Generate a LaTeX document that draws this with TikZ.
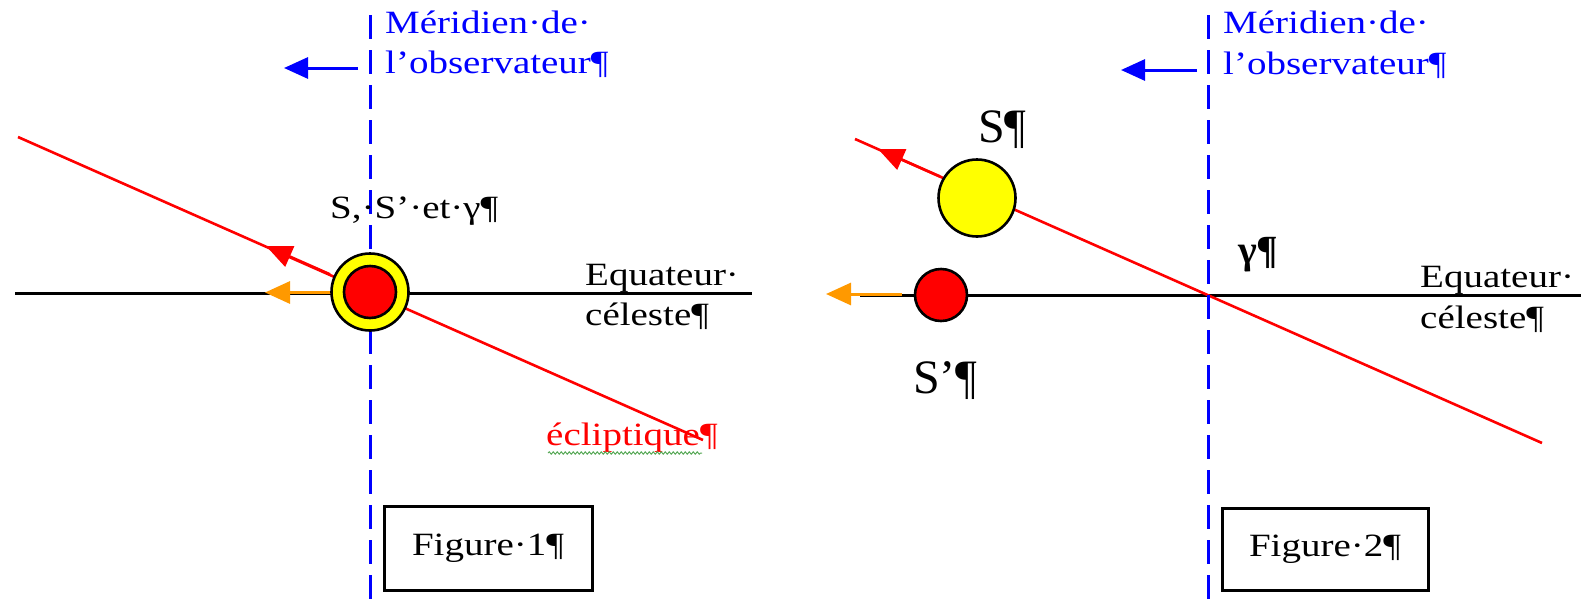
\documentclass[tikz,border=0pt]{standalone}
\usepackage{fontspec}
\setmainfont{Liberation Serif}
\newfontfamily\wfont[FakeStretch=1.2]{Liberation Serif}
\usetikzlibrary{arrows.meta,decorations.pathmorphing}
\definecolor{wblue}{RGB}{0,0,255}
\definecolor{worange}{RGB}{255,153,0}
\definecolor{wyellow}{RGB}{255,255,0}
\definecolor{wred}{RGB}{255,0,0}
\definecolor{wgreen}{RGB}{90,170,90}
\begin{document}
\begin{tikzpicture}[x=1pt,y=-1pt,
  meridian/.style={wblue, line width=3pt, dash pattern=on 24pt off 11pt},
  bluearrow/.style={wblue, line width=3pt, -{Triangle[length=24pt,width=21pt]}},
  ecl/.style={wred, line width=2.6pt},
  eclarrow/.style={wred, line width=2.6pt, -{Triangle[length=26pt,width=22pt]}},
  orarrow/.style={worange, line width=3pt, -{Triangle[length=25pt,width=22pt]}},
  equator/.style={black, line width=3pt},
  txt/.style={inner sep=0pt, anchor=base west, font={\wfont\fontsize{32.5}{38}\selectfont}},
  bigtxt/.style={inner sep=0pt, anchor=base west, font={\fontsize{48}{56}\selectfont}},
  figbox/.style={draw, line width=3pt, inner sep=0pt, font={\wfont\fontsize{32.5}{38}\selectfont}},
  sun/.style={circle, draw, line width=2.6pt, fill=wyellow, minimum size=77pt, inner sep=0pt},
  star/.style={circle, draw, line width=2.6pt, fill=wred, minimum size=52pt, inner sep=0pt},
]
\useasboundingbox (0,0) rectangle (1581,600);

% ---------------- Figure 1 ----------------
\coordinate (eq1a) at (15,293);
\coordinate (eq1b) at (752,293);
\coordinate (ec1a) at (18,137);
\coordinate (ec1b) at (703,440);
\coordinate (m1a) at (370,15);
\coordinate (m1b) at (370,600);
\coordinate (ra1s) at (330,274.3);
\coordinate (ra1e) at (266,246);
\coordinate (oa1s) at (340,292.5);
\coordinate (oa1e) at (265,292.5);
\coordinate (ba1s) at (358,68);
\coordinate (ba1e) at (284,68);

\draw[equator] (eq1a) -- (eq1b);
\draw[ecl] (ec1a) -- (ec1b);
\draw[meridian] (m1a) -- (m1b);
\draw[eclarrow] (ra1s) -- (ra1e);
\draw[orarrow] (oa1s) -- (oa1e);
\node[sun] (S1) at (370,292) {};
\node[star] (Sp1) at (370,292) {};
\draw[bluearrow] (ba1s) -- (ba1e);

\node[txt, text=wblue] (mer1a) at (385,33) {Méridien·de·};
\node[txt, text=wblue] (mer1b) at (385,73) {l’observateur¶};
\node[txt] (lab1) at (330,218) {S,·S’·et·γ¶};
\node[txt] (eqt1a) at (585,285) {Equateur·};
\node[txt] (eqt1b) at (585,325) {céleste¶};
\node[txt, text=wred] (ecl1) at (546,445) {écliptique¶};
\draw[wgreen, line width=1pt, decorate, decoration={snake, amplitude=1.2pt, segment length=4pt}] (ecl1.base west) ++(2,8) coordinate (g1a) -- (702,453) coordinate (g1b);
\node[figbox, minimum width=208pt, minimum height=84pt] (fig1) at (488,548) {Figure·1¶};

% ---------------- Figure 2 ----------------
\coordinate (eq2a) at (860,295);
\coordinate (eq2b) at (1581,295);
\coordinate (ec2a) at (855,139);
\coordinate (ec2b) at (1542,443);
\coordinate (m2a) at (1208,15);
\coordinate (m2b) at (1208,600);
\coordinate (ra2s) at (940,176.5);
\coordinate (ra2e) at (878,149);
\coordinate (oa2s) at (902,294);
\coordinate (oa2e) at (826,294);
\coordinate (ba2s) at (1197,70);
\coordinate (ba2e) at (1121,70);

\draw[equator] (eq2a) -- (eq2b);
\draw[ecl] (ec2a) -- (ec2b);
\draw[meridian] (m2a) -- (m2b);
\draw[eclarrow] (ra2s) -- (ra2e);
\draw[orarrow] (oa2s) -- (oa2e);
\node[sun] (S2) at (977,198) {};
\node[star] (Sp2) at (941,295) {};
\draw[bluearrow] (ba2s) -- (ba2e);

\node[txt, text=wblue] (mer2a) at (1223,33) {Méridien·de·};
\node[txt, text=wblue] (mer2b) at (1223,74) {l’observateur¶};
\node[bigtxt] (labS) at (978,142) {S¶};
\node[bigtxt] (labSp) at (913,393) {S’¶};
\node[inner sep=0pt, anchor=base west, font={\fontsize{40}{46}\selectfont\bfseries}] (gam) at (1238,263) {γ¶};
\node[txt] (eqt2a) at (1420,287) {Equateur·};
\node[txt] (eqt2b) at (1420,328) {céleste¶};
\node[figbox, minimum width=206pt, minimum height=82pt] (fig2) at (1325,549) {Figure·2¶};
\end{tikzpicture}
\end{document}
